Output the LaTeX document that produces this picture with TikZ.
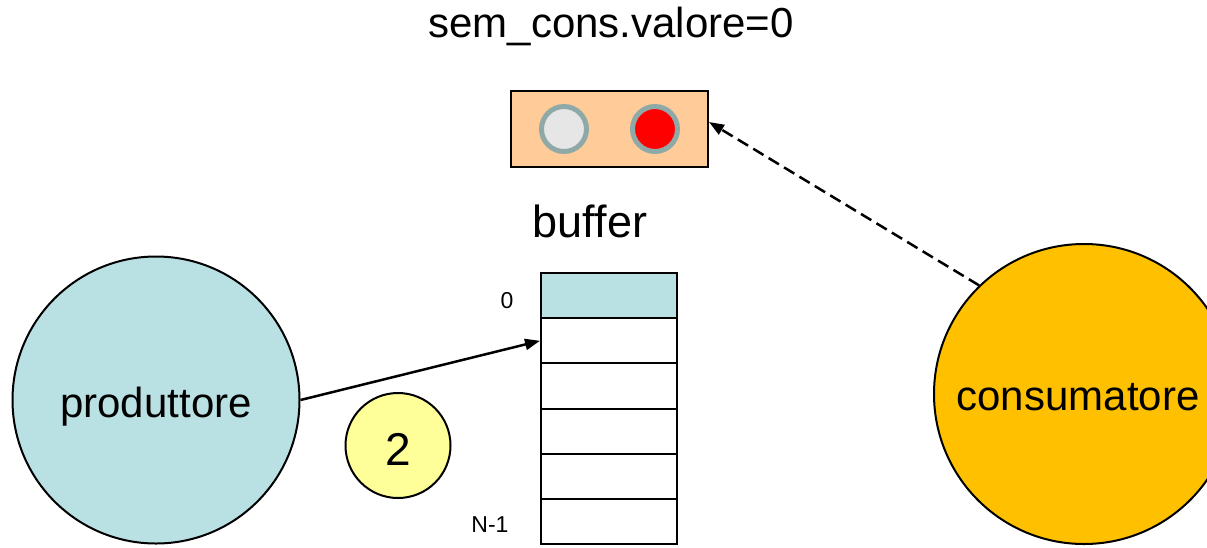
\documentclass[tikz,border=0pt]{standalone}
\usepackage{fontspec}
\setmainfont{Liberation Sans}
\usetikzlibrary{arrows.meta}
\definecolor{prodblue}{HTML}{B9E0E3}
\definecolor{consorange}{HTML}{FFC000}
\definecolor{boxpeach}{HTML}{FFCC99}
\definecolor{tokyellow}{HTML}{FFFF99}
\definecolor{ringgray}{HTML}{8FA9A9}
\definecolor{lightgray2}{HTML}{E6E6E6}
\definecolor{semred}{HTML}{FF0000}
\tikzset{
  bigtxt/.style={font=\fontsize{42}{50}\selectfont, inner sep=0pt},
  smalltxt/.style={font=\fontsize{23}{27}\selectfont, inner sep=0pt},
  proc/.style={circle, draw=black, line width=2pt, inner sep=0pt},
  cellbox/.style={rectangle, draw=black, line width=2pt, minimum width=136pt, minimum height=45.2pt, inner sep=0pt, fill=white},
  light/.style={circle, draw=ringgray, line width=5pt, minimum size=45pt, inner sep=0pt},
  arr/.style={line width=2.5pt, -{Triangle[length=15pt,width=11pt]}},
}
\begin{document}
\begin{tikzpicture}[x=1pt,y=-1pt]
\useasboundingbox (0,0) rectangle (1207,547);
\clip (0,0) rectangle (1207,547);
\fill[white] (0,0) rectangle (1207,547);

% title
\node[bigtxt, anchor=base] (title) at (611,37) {sem\_cons.valore=0};

% semaphore box
\node[rectangle, draw=black, line width=2pt, fill=boxpeach, minimum width=197pt, minimum height=76pt, inner sep=0pt] (sem) at (609.5,129) {};
\node[light, fill=lightgray2] (lgray) at (564,129) {};
\node[light, fill=semred] (lred) at (655,129) {};

% buffer
\node[bigtxt, font=\fontsize{45}{54}\selectfont, anchor=base] (buflbl) at (590,237) {buffer};
\node[cellbox, fill=prodblue] (c0) at (609,295.6) {};
\node[cellbox] (c1) at (609,340.8) {};
\node[cellbox] (c2) at (609,386.0) {};
\node[cellbox] (c3) at (609,431.2) {};
\node[cellbox] (c4) at (609,476.4) {};
\node[cellbox] (c5) at (609,521.6) {};
\node[smalltxt, anchor=base] (l0) at (507,308) {0};
\node[smalltxt, anchor=base] (lN) at (490,532) {N-1};

% producer
\node[proc, fill=prodblue, minimum size=287pt] (prod) at (156,400) {};
\node[bigtxt, anchor=base] (prodlbl) at (156,417) {produttore};

% token
\node[proc, fill=tokyellow, minimum size=105pt] (tok) at (398,445.5) {};
\node[bigtxt, font=\fontsize{46}{54}\selectfont, anchor=base] (toklbl) at (398,465) {2};

% consumer
\node[proc, fill=consorange, minimum size=300pt] (cons) at (1084,394) {};
\node[bigtxt, anchor=base] (conslbl) at (1078,410) {consumatore};

% connectors
\draw[arr] (prod.east) -- (c1.west);
\draw[arr, dash pattern=on 12pt off 6pt] (cons.134) -- ([yshift=7pt]sem.east);
\end{tikzpicture}
\end{document}
